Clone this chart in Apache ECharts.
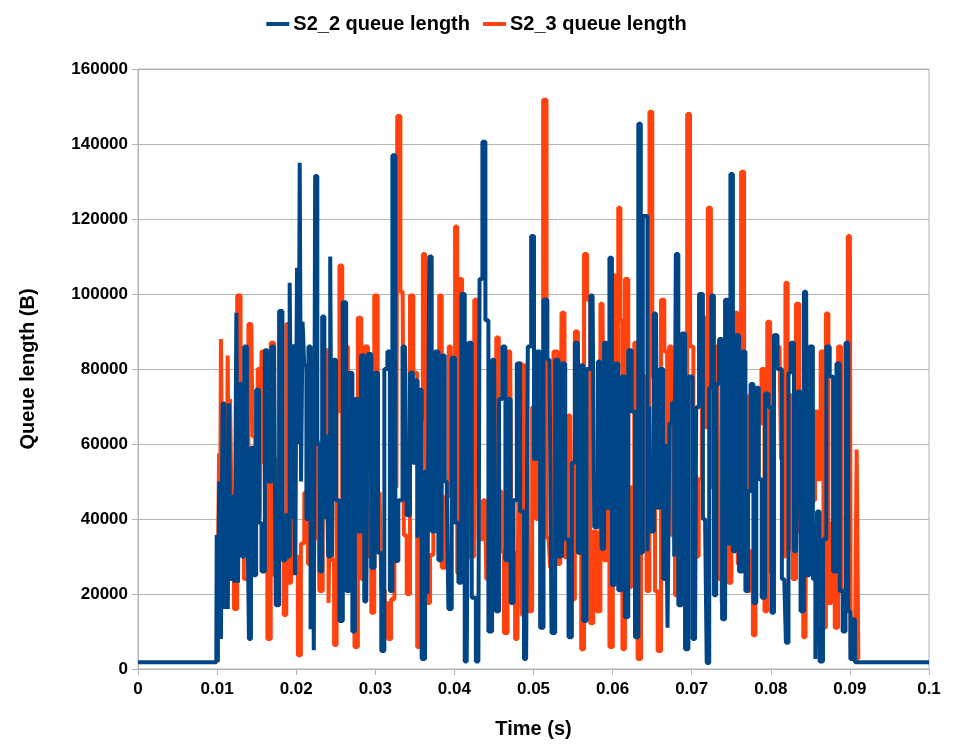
<!DOCTYPE html>
<html>
<head>
<meta charset="utf-8">
<script src="https://cdn.jsdelivr.net/npm/echarts@6/dist/echarts.min.js"></script>
<style>
  html, body { margin: 0; padding: 0; background: #fff; }
  #main { width: 953px; height: 744px; }
</style>
</head>
<body>
<div id="main"></div>
<script>
const xTicks = ['0', '0.01', '0.02', '0.03', '0.04', '0.05', '0.06', '0.07', '0.08', '0.09', '0.1']

// S2_2 queue length (blue)
const s2Times = [
  0, 0.0099, 0.01000, 0.01013, 0.01042, 0.01055, 0.01085, 0.01106, 0.01127, 0.01144, 0.01157, 0.01182,
  0.01212, 0.01233, 0.01254, 0.01275, 0.01297, 0.01326, 0.01360, 0.01394, 0.01411, 0.01445, 0.01479,
  0.01508, 0.01551, 0.01572, 0.01636, 0.01657, 0.01720, 0.01763, 0.01805, 0.01847, 0.01877, 0.01903,
  0.01932, 0.01953, 0.01975, 0.01996, 0.02025, 0.02038, 0.02051, 0.02072, 0.02089, 0.02114, 0.02144,
  0.02165, 0.02199, 0.02216, 0.02229, 0.02250, 0.02284, 0.02314, 0.02343, 0.02369, 0.02390, 0.02419,
  0.02441, 0.02462, 0.02483, 0.02525, 0.02568, 0.02610, 0.02653, 0.02695, 0.02725, 0.02758, 0.02801,
  0.02835, 0.02886, 0.02928, 0.02970, 0.03013, 0.03055, 0.03097, 0.03131, 0.03174, 0.03195, 0.03237,
  0.03270, 0.03312, 0.03376, 0.03418, 0.03460, 0.03489, 0.03523, 0.03544, 0.03565, 0.03608, 0.03650,
  0.03671, 0.03692, 0.03734, 0.03776, 0.03819, 0.03852, 0.03903, 0.03945, 0.03987, 0.04030, 0.04072,
  0.04105, 0.04156, 0.04198, 0.04240, 0.04303, 0.04333, 0.04375, 0.04409, 0.04451, 0.04502, 0.04544,
  0.04586, 0.04628, 0.04662, 0.04696, 0.04726, 0.04768, 0.04810, 0.04852, 0.04907, 0.04949, 0.04992,
  0.05021, 0.05063, 0.05105, 0.05148, 0.05203, 0.05253, 0.05295, 0.05338, 0.05380, 0.05422, 0.05464,
  0.05506, 0.05540, 0.05582, 0.05612, 0.05650, 0.05692, 0.05747, 0.05789, 0.05840, 0.05882, 0.05903,
  0.05945, 0.05975, 0.06008, 0.06051, 0.06093, 0.06135, 0.06177, 0.06219, 0.06262, 0.06304, 0.06346,
  0.06367, 0.06397, 0.06430, 0.06451, 0.06473, 0.06494, 0.06549, 0.06578, 0.06620, 0.06662, 0.06684,
  0.06705, 0.06734, 0.06768, 0.06789, 0.06810, 0.06852, 0.06895, 0.06937, 0.06979, 0.07042, 0.07072,
  0.07114, 0.07169, 0.07211, 0.07232, 0.07266, 0.07295, 0.07325, 0.07367, 0.07401, 0.07443, 0.07473,
  0.07506, 0.07536, 0.07578, 0.07620, 0.07662, 0.07696, 0.07730, 0.07759, 0.07802, 0.07831, 0.07865,
  0.07907, 0.07949, 0.07992, 0.08025, 0.08055, 0.08110, 0.08170, 0.08213, 0.08234, 0.08268, 0.08319,
  0.08362, 0.08391, 0.08447, 0.08468, 0.08511, 0.08553, 0.08574, 0.08596, 0.08638, 0.08681, 0.08723,
  0.08766, 0.08809, 0.08851, 0.08894, 0.08923, 0.08966, 0.08991, 0.09021, 0.09051, 0.09077, 0.1
]
const s2Values = [
  1800, 1800, 35700, 2000, 50000, 8000, 70800, 16000, 58000, 16000, 70800, 24000,
  46000, 23000, 95000, 23000, 76000, 30000, 86000, 56000, 8000, 59000, 25000,
  74500, 39000, 26000, 85000, 50000, 86000, 17000, 95500, 29000, 41000, 30000,
  103000, 40000, 86600, 25000, 107000, 60000, 135000, 50000, 92600, 81000, 40000,
  86000, 10600, 60000, 5000, 131500, 60000, 26000, 94000, 40000, 62500, 30000,
  110000, 30000, 82500, 45000, 12800, 97800, 20800, 79000, 10000, 72000, 36700,
  83600, 18000, 84000, 27000, 79000, 31000, 4800, 80000, 84700, 20800, 137000,
  28800, 45000, 86000, 41000, 79000, 55000, 77000, 35000, 74500, 2700, 52700,
  20000, 110000, 36700, 84700, 29000, 83600, 50000, 16000, 83000, 39000, 23000,
  100000, 2000, 87000, 19000, 2000, 104000, 140600, 93000, 10000, 82500, 15400,
  72000, 86000, 29000, 72000, 17600, 45000, 81500, 42000, 2700, 86000, 115500,
  56000, 84700, 11000, 98500, 82500, 9600, 82500, 30000, 81500, 34600, 8500,
  55000, 87000, 31000, 81000, 12800, 80000, 99600, 37800, 82000, 32000, 87000,
  43000, 109700, 22400, 81500, 21000, 78000, 13800, 85000, 68700, 8500, 145400,
  31000, 120800, 120800, 31400, 70000, 36700, 94800, 43000, 80000, 24000, 60000,
  11000, 65500, 71000, 30000, 110700, 17000, 89500, 5300, 78000, 8000, 69800,
  100000, 40000, 1600, 75000, 99600, 19700, 76000, 88000, 13300, 98500, 33500,
  132000, 31400, 89000, 26000, 84700, 20800, 47400, 76000, 17600, 75000, 50600,
  19000, 73500, 69800, 15000, 89000, 80000, 24000, 7000, 79000, 87000, 31400,
  74000, 15400, 100600, 25000, 86000, 24000, 2700, 42000, 2000, 34600, 86000,
  78000, 26000, 81500, 20800, 10000, 87000, 15400, 2700, 13300, 1800, 1800
]

// S2_3 queue length (orange)
const s3Times = [
  0.01010, 0.01021, 0.01030, 0.01042, 0.01055, 0.01085, 0.01114, 0.01127, 0.01140, 0.01157, 0.01169,
  0.01191, 0.01233, 0.01275, 0.01318, 0.01360, 0.01432, 0.01466, 0.01496, 0.01530, 0.01551, 0.01572,
  0.01614, 0.01657, 0.01699, 0.01742, 0.01784, 0.01826, 0.01860, 0.01890, 0.01919, 0.01953, 0.01975,
  0.02004, 0.02038, 0.02081, 0.02123, 0.02174, 0.02208, 0.02271, 0.02314, 0.02356, 0.02398, 0.02419,
  0.02441, 0.02462, 0.02496, 0.02525, 0.02568, 0.02597, 0.02631, 0.02674, 0.02716, 0.02758, 0.02801,
  0.02843, 0.02886, 0.02928, 0.02970, 0.03004, 0.03055, 0.03097, 0.03140, 0.03182, 0.03216, 0.03267,
  0.03288, 0.03346, 0.03376, 0.03418, 0.03460, 0.03502, 0.03557, 0.03574, 0.03629, 0.03671, 0.03713,
  0.03755, 0.03797, 0.03819, 0.03861, 0.03903, 0.03954, 0.03996, 0.04021, 0.04051, 0.04080, 0.04114,
  0.04156, 0.04219, 0.04283, 0.04333, 0.04388, 0.04418, 0.04473, 0.04515, 0.04544, 0.04578, 0.04612,
  0.04641, 0.04705, 0.04738, 0.04797, 0.04840, 0.04865, 0.04916, 0.04958, 0.05008, 0.05055, 0.05105,
  0.05139, 0.05190, 0.05232, 0.05274, 0.05338, 0.05371, 0.05413, 0.05464, 0.05506, 0.05540, 0.05582,
  0.05624, 0.05654, 0.05700, 0.05734, 0.05776, 0.05819, 0.05873, 0.05903, 0.05945, 0.05975, 0.06030,
  0.06059, 0.06084, 0.06114, 0.06135, 0.06177, 0.06219, 0.06253, 0.06295, 0.06338, 0.06380, 0.06409,
  0.06451, 0.06481, 0.06523, 0.06549, 0.06591, 0.06633, 0.06675, 0.06705, 0.06726, 0.06768, 0.06810,
  0.06861, 0.06895, 0.06928, 0.06958, 0.07000, 0.07042, 0.07072, 0.07105, 0.07156, 0.07190, 0.07219,
  0.07266, 0.07325, 0.07359, 0.07401, 0.07443, 0.07477, 0.07527, 0.07561, 0.07603, 0.07646, 0.07679,
  0.07717, 0.07759, 0.07789, 0.07823, 0.07865, 0.07899, 0.07941, 0.07970, 0.08013, 0.08055, 0.08110,
  0.08149, 0.08170, 0.08200, 0.08226, 0.08255, 0.08298, 0.08340, 0.08383, 0.08438, 0.08468, 0.08511,
  0.08545, 0.08574, 0.08609, 0.08651, 0.08681, 0.08711, 0.08745, 0.08787, 0.08830, 0.08872, 0.08906,
  0.08949, 0.09000, 0.09021, 0.09051, 0.09077, 0.09094, 0.09119
]
const s3Values = [
  1800, 38000, 57500, 20000, 88000, 33500, 71000, 30000, 83600, 40000, 72000,
  47000, 16000, 99600, 47400, 24000, 92000, 62000, 41000, 80000, 40000, 84700,
  55000, 8000, 87000, 25000, 56000, 30000, 14400, 92000, 23000, 70000, 58000,
  30000, 3700, 33500, 47000, 28000, 34600, 61000, 20800, 62000, 85000, 17600,
  52700, 29000, 6400, 68700, 107600, 35000, 86000, 34000, 51600, 5900, 93700,
  24000, 86000, 30000, 15000, 99600, 47000, 21000, 17600, 8000, 18600, 48500,
  147500, 100600, 35700, 20000, 99600, 79000, 5900, 66600, 110700, 17600, 30400,
  83000, 40000, 99600, 27000, 46000, 86000, 40000, 118000, 25600, 104000, 71000,
  49500, 30000, 98500, 34600, 45000, 24000, 77000, 40000, 88400, 47400, 31400,
  9600, 84700, 31000, 8000, 81500, 14400, 81000, 15400, 69800, 40000, 74000,
  151800, 35000, 27000, 84700, 28000, 95000, 29800, 67600, 18600, 90000, 31000,
  5300, 110700, 98500, 12200, 36700, 15400, 97400, 29000, 70000, 5900, 105000,
  80000, 123000, 93000, 5300, 104000, 21800, 48500, 87000, 2700, 31400, 78000,
  20800, 148600, 78000, 20800, 4800, 98500, 84700, 40000, 86000, 35700, 19700,
  46800, 86000, 30000, 148000, 86000, 51600, 30000, 50600, 94000, 64500, 123000,
  48500, 86000, 24000, 17600, 60000, 23000, 45000, 95000, 28000, 132600, 73000,
  20800, 31400, 9000, 52700, 65500, 80000, 15400, 92600, 26000, 89000, 86000,
  56000, 30000, 103000, 32000, 73000, 24000, 97400, 36700, 8500, 71000, 56000,
  45000, 68700, 50600, 84700, 11000, 94800, 17600, 39000, 11000, 86000, 21000,
  15400, 115500, 5300, 8000, 4800, 58500, 2700
]

const zip = (ts, vs) => ts.map((t, i) => [t, vs[i]])

const font = 'Liberation Sans'
const chart = echarts.init(document.getElementById('main'))

chart.setOption({
  animation: false,
  textStyle: { fontFamily: font },
  legend: {
    top: 9,
    left: 'center',
    itemWidth: 23,
    itemHeight: 4,
    itemGap: 13,
    icon: 'rect',
    textStyle: { fontSize: 20, fontWeight: 'bold', color: '#000', fontFamily: font, padding: [0, 0, 0, -1] },
    data: ['S2_2 queue length', 'S2_3 queue length']
  },
  grid: {
    left: 138, right: 24, top: 69, bottom: 72,
    show: true, borderColor: '#b3b3b3', borderWidth: 1
  },
  xAxis: {
    type: 'value',
    min: 0, max: 0.1, interval: 0.01,
    name: 'Time (s)',
    nameLocation: 'middle',
    nameGap: 50,
    nameTextStyle: { fontSize: 20, fontWeight: 'bold', color: '#000', fontFamily: font },
    axisLine: { lineStyle: { color: '#b3b3b3' } },
    axisTick: { show: true, length: 6, lineStyle: { color: '#b3b3b3' } },
    splitLine: { show: false },
    axisLabel: {
      fontSize: 17, fontWeight: 'bold', color: '#000', margin: 12,
      formatter: v => xTicks[Math.round(v * 100)]
    }
  },
  yAxis: {
    type: 'value',
    min: 0, max: 160000, interval: 20000,
    name: 'Queue length (B)',
    nameLocation: 'middle',
    nameGap: 100,
    nameTextStyle: { fontSize: 20, fontWeight: 'bold', color: '#000', fontFamily: font },
    axisLine: { show: true, lineStyle: { color: '#b3b3b3' } },
    axisTick: { show: true, length: 6, lineStyle: { color: '#b3b3b3' } },
    splitLine: { lineStyle: { color: '#b3b3b3' } },
    axisLabel: { fontSize: 17, fontWeight: 'bold', color: '#000', margin: 10, formatter: v => String(v) }
  },
  series: [
    {
      name: 'S2_2 queue length',
      type: 'line',
      step: 'middle',
      symbol: 'none',
      z: 3,
      color: '#004586',
      lineStyle: { width: 4, color: '#004586' },
      data: zip(s2Times, s2Values)
    },
    {
      name: 'S2_3 queue length',
      type: 'line',
      step: 'middle',
      symbol: 'none',
      z: 2,
      color: '#ff420e',
      lineStyle: { width: 4, color: '#ff420e' },
      data: zip(s3Times, s3Values)
    }
  ]
})
</script>
</body>
</html>
